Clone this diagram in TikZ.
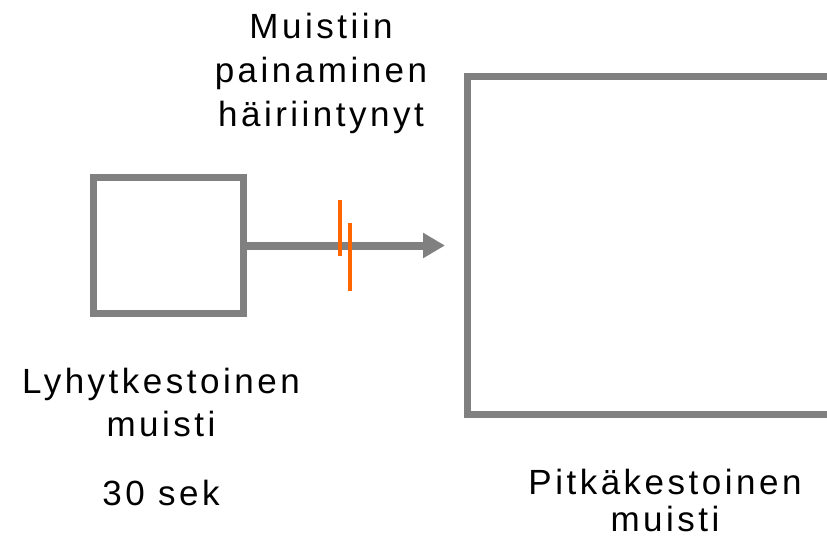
\documentclass[tikz,border=0pt]{standalone}
\usepackage{fontspec}
\setmainfont[LetterSpace=10]{Liberation Sans}
\usetikzlibrary{arrows.meta,positioning}
\definecolor{boxgray}{HTML}{808080}
\definecolor{cutorange}{HTML}{FF6600}
\tikzset{membox/.style={draw=boxgray,line width=7pt,inner sep=0pt},
	lbl/.style={font=\fontsize{35}{44}\selectfont,align=center,anchor=base,inner sep=0pt},
	cutmark/.style={cutorange,line width=3.5pt}}
\begin{document}
\begin{tikzpicture}[x=1pt,y=-1pt,>={Triangle[length=22pt,width=24pt]}]
	\useasboundingbox (0,0) rectangle (827,536);
	\clip (0,0) rectangle (827,536);
	\node[membox,minimum width=150pt,minimum height=136pt] (short) at (168.5,245.5) {};
	\node[membox,minimum width=432.5pt,minimum height=338pt] (long) at (683.75,245.5) {};
	\draw[->,boxgray,line width=8pt,shorten >=19pt] (short.east)--(long.west);
	\draw[cutmark] (340,200)--(340,256);
	\draw[cutmark] (350,223)--(350,291);
	% base anchor = baseline of the last line
	\node[lbl] (block) at (321,126) {Muistiin\\painaminen\\häiriintynyt};
	\node[lbl,font=\fontsize{35}{43}\selectfont] (shortname) at (161,436) {Lyhytkestoinen\\muisti};
	\node[lbl] (shorttime) at (161,505) {30 sek};
	\node[lbl,font=\fontsize{35}{37}\selectfont] (longname) at (665,531) {Pitkäkestoinen\\muisti};
\end{tikzpicture}
\end{document}
